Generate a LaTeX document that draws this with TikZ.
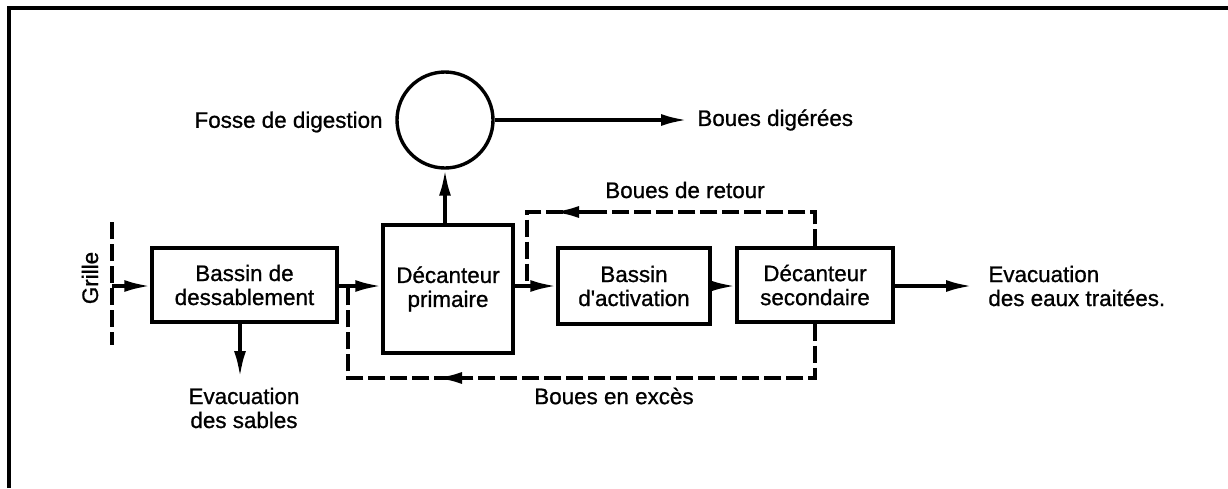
\documentclass[tikz,border=0pt]{standalone}
\usepackage{fontspec}
\setmainfont{Liberation Sans}
\newfontfamily\diafont{Liberation Sans}[FakeBold=0.9]
\usetikzlibrary{arrows.meta}
\begin{document}
\begin{tikzpicture}[x=0.5pt,y=-0.5pt,
  every node/.style={font=\diafont\fontsize{11.2pt}{12pt}\selectfont, inner sep=0pt},
  box/.style={draw, line width=1.7pt, align=center},
  flow/.style={line width=1.7pt, -{Latex[length=13pt,width=6pt]}},
  dline/.style={line width=1.7pt, dash pattern=on 8.5pt off 2.5pt},
  lbl/.style={align=center}]
\useasboundingbox (0,0) rectangle (1228,488);
% frame (only top and left edges visible)
\draw[line width=1.7pt] (9,488) -- (9,8) -- (1228,8);

% nodes
\node[box, circle, minimum size=48pt] (dig) at (445,120) {};
\node[box, minimum width=65pt, minimum height=64pt] (prim) at (448,289) {D\'ecanteur\\primaire};
\node[box, minimum width=92.5pt, minimum height=37pt] (dess) at (244.5,285) {Bassin de\\dessablement};
\node[box, minimum width=76pt, minimum height=38pt] (act) at (634,286) {Bassin\\d'activation};
\node[box, minimum width=78pt, minimum height=37pt] (sec) at (815,285) {D\'ecanteur\\secondaire};

% labels
\node[anchor=east] (fosse) at (383,122) {Fosse de digestion};
\node[anchor=west] (digl) at (697,120) {Boues dig\'er\'ees};
\node[lbl] (retl) at (685,190) {Boues de retour};
\node[lbl] (excl) at (614,396) {Boues en exc\`es};
\node[lbl] (sabl) at (244,408) {Evacuation\\des sables};
\node[align=left, anchor=west] (eaux) at (988,286) {Evacuation\\des eaux trait\'ees.};
\node[rotate=90] (grl) at (90,278) {Grille};

% coordinates
\coordinate (gtop) at (112,222);
\coordinate (gbot) at (112,345);
\coordinate (gin) at (112,286);
\coordinate (digout) at (687,120);
\coordinate (sabout) at (240,377);
\coordinate (eauxout) at (972,286);
\coordinate (retTop) at (527,212);
\coordinate (retBot) at (527,286);
\coordinate (retA) at (590,212);
\coordinate (retB) at (553,212);
\coordinate (excBot) at (348,378);
\coordinate (excTop) at (348,286);
\coordinate (excA) at (473,378);
\coordinate (excB) at (436,378);

% grille
\draw[dline] (gtop) -- (gbot);

% main flow
\draw[flow] (gin) -- (gin -| dess.west);
\draw[flow] (dess.east |- gin) -- (gin -| prim.west);
\draw[flow] (gin -| prim.east) -- (gin -| act.west);
\draw[flow] (gin -| act.east) -- (gin -| sec.west);
\draw[flow] (gin -| sec.east) -- (eauxout);
\draw[flow] (prim.north -| dig.south) -- (dig.south);
\draw[flow] (dig.east) -- (digout);
\draw[flow] (sabout |- dess.south) -- (sabout);

% return sludge
\draw[dline] (sec.north) |- (retTop) -- (retBot);
\draw[flow] (retA) -- (retB);
% excess sludge
\draw[dline] (sec.south) |- (excBot) -- (excTop);
\draw[flow] (excA) -- (excB);
\end{tikzpicture}
\end{document}
